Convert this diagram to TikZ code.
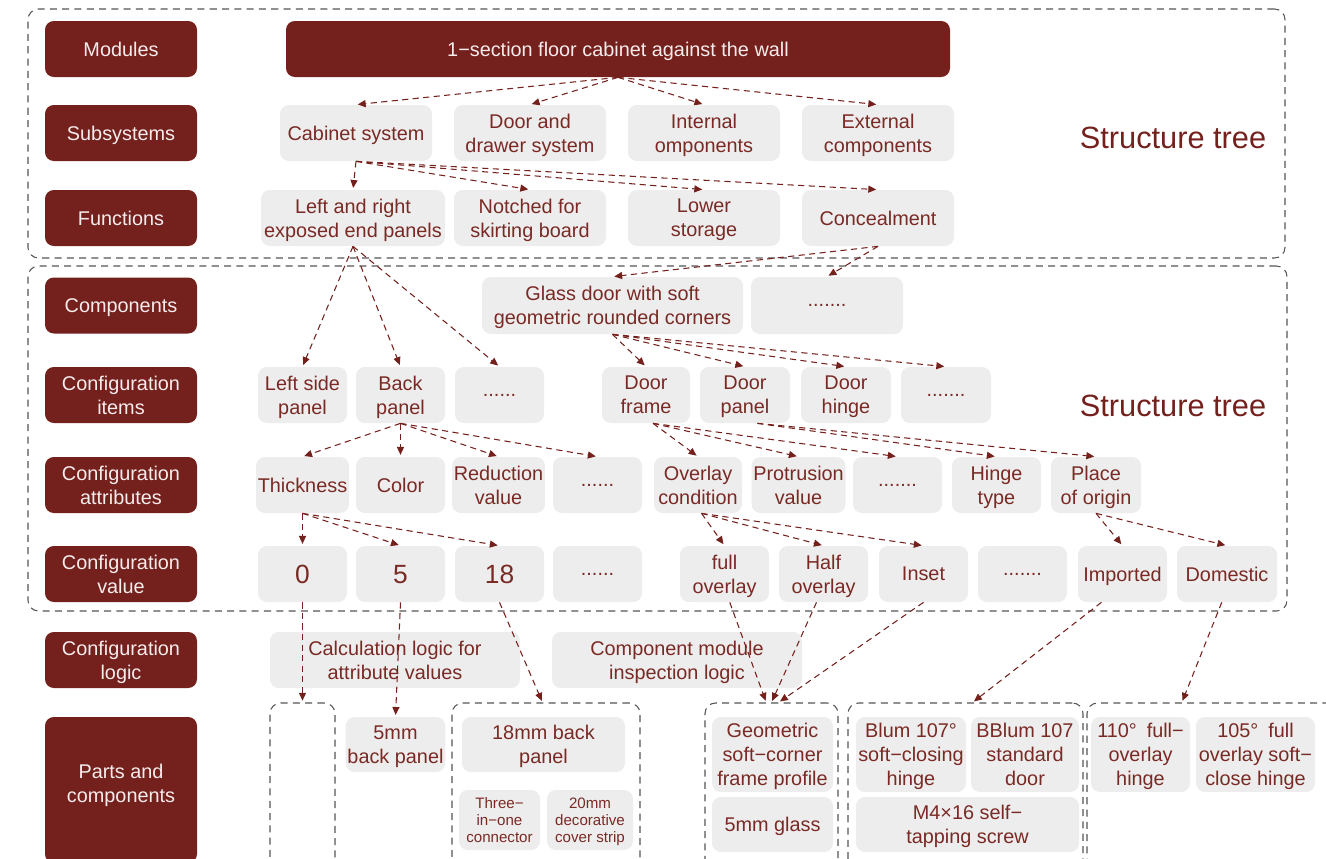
\documentclass[tikz,border=0pt]{standalone}
\usepackage{fontspec}
\setmainfont{Liberation Sans}
\usetikzlibrary{arrows.meta}
\definecolor{wine}{HTML}{74201D}
\definecolor{labtxt}{HTML}{F6ECEC}
\definecolor{itemgray}{HTML}{EDEDED}
\definecolor{itemtxt}{HTML}{7A2A25}
\definecolor{grpgray}{HTML}{555555}

\begin{document}
\begin{tikzpicture}[x=0.02cm, y=-0.02cm,
  font=\fontsize{11.3}{13.6}\selectfont,
  sz/.style 2 args={minimum width=#1*0.02cm, minimum height=#2*0.02cm},
  lab/.style={fill=wine, text=labtxt, rounded corners=5pt, align=center, inner sep=1pt, text depth=0pt, sz={152}{56}},
  item/.style={fill=itemgray, text=itemtxt, rounded corners=5pt, align=center, inner sep=1pt, text depth=0pt},
  grp/.style={draw=grpgray, dash pattern=on 4pt off 3pt, line width=0.6pt, rounded corners=6pt},
  arr/.style={draw=wine, line width=0.6pt, dash pattern=on 3.5pt off 2.5pt, -{Triangle[length=4.5pt,width=4pt]}, shorten >=1pt},
  small/.style={font=\fontsize{8.6}{9.8}\selectfont},
  title/.style={text=wine, font=\fontsize{17.5}{20}\selectfont},
]
\useasboundingbox (0,0) rectangle (1326,859);
\clip (0,0) rectangle (1326,859);

% dashed groups
\node[grp, sz={1257}{249}] (gtop) at (656.5,133.5) {};
\node[grp, sz={1259}{345}] (gmid) at (657.5,438.5) {};
\node[grp, sz={65}{172}] (gzero) at (302.5,789) {};
\node[grp, sz={188}{172}] (geight) at (546,789) {};
\node[grp, sz={133}{172}] (gglass) at (771.5,789) {};
\node[grp, sz={235}{172}] (gblum) at (965.5,789) {};
\node[grp, sz={253}{172}] (ghinge) at (1213.5,789) {};

% level labels
\node[lab] (lmod) at (121,49) {Modules};
\node[lab] (lsub) at (121,133) {Subsystems};
\node[lab] (lfun) at (121,218) {Functions};
\node[lab] (lcomp) at (121,305.5) {Components};
\node[lab] (litem) at (121,395) {Configuration\\items};
\node[lab] (lattr) at (121,485) {Configuration\\attributes};
\node[lab] (lval) at (121,574) {Configuration\\value};
\node[lab] (llogic) at (121,660) {Configuration\\logic};
\node[lab, sz={152}{146}, text depth=8pt] (lparts) at (121,790) {Parts and\\components};

\node[title] (st1) at (1173,138) {Structure tree};
\node[title] (st2) at (1173,406) {Structure tree};

% module
\node[lab, sz={664}{56}] (mod) at (618,49) {1−section floor cabinet against the wall};

% subsystems
\node[item, sz={152}{56}] (cab) at (356,133) {Cabinet system};
\node[item, sz={152}{56}] (door) at (530,133) {Door and\\drawer system};
\node[item, sz={152}{56}] (intern) at (704,133) {Internal\\omponents};
\node[item, sz={152}{56}] (extern) at (878,133) {External\\components};

% functions
\node[item, sz={184}{56}] (lr) at (353,218) {Left and right\\exposed end panels};
\node[item, sz={152}{56}] (notch) at (530,218) {Notched for\\skirting board};
\node[item, sz={152}{56}] (lower) at (704,218) {Lower\\storage};
\node[item, sz={152}{56}] (conceal) at (878,218) {Concealment};

% components
\node[item, sz={261}{57}] (glass) at (612.5,305.5) {Glass door with soft\\geometric rounded corners};
\node[item, sz={152}{57}] (cdots) at (827,305.5) {.......};

% configuration items
\node[item, sz={89}{56}] (lside) at (302.5,395) {Left side\\panel};
\node[item, sz={89}{56}] (back) at (400.5,395) {Back\\panel};
\node[item, sz={89}{56}] (idots) at (499.5,395) {......};
\node[item, sz={88}{56}] (dframe) at (646,395) {Door\\frame};
\node[item, sz={90}{56}] (dpanel) at (745,395) {Door\\panel};
\node[item, sz={90}{56}] (dhinge) at (846,395) {Door\\hinge};
\node[item, sz={90}{56}] (idotsb) at (946,395) {.......};

% configuration attributes
\node[item, sz={89}{56}] (thick) at (302.5,485) {Thickness};
\node[item, sz={89}{56}] (color) at (400.5,485) {Color};
\node[item, sz={89}{56}] (reduct) at (498.5,485) {Reduction\\value};
\node[item, sz={89}{56}] (adots) at (597.5,485) {......};
\node[item, sz={88}{56}] (overlay) at (698,485) {Overlay\\condition};
\node[item, sz={93}{56}] (protr) at (798.5,485) {Protrusion\\value};
\node[item, sz={89}{56}] (adotsb) at (897.5,485) {.......};
\node[item, sz={89}{56}] (htype) at (996.5,485) {Hinge\\type};
\node[item, sz={90}{56}] (origin) at (1096,485) {Place\\of origin};

% configuration values
\node[item, sz={89}{56}, font=\fontsize{15}{18}\selectfont] (vzero) at (302.5,574) {0};
\node[item, sz={89}{56}, font=\fontsize{15}{18}\selectfont] (vfive) at (400.5,574) {5};
\node[item, sz={89}{56}, font=\fontsize{15}{18}\selectfont] (veight) at (499.5,574) {18};
\node[item, sz={89}{56}] (vdots) at (597.5,574) {......};
\node[item, sz={89}{56}] (vfull) at (724.5,574) {full\\overlay};
\node[item, sz={89}{56}] (vhalf) at (823.5,574) {Half\\overlay};
\node[item, sz={89}{56}] (vinset) at (923.5,574) {Inset};
\node[item, sz={89}{56}] (vdotsb) at (1022.5,574) {.......};
\node[item, sz={89}{56}] (vimp) at (1122.5,574) {Imported};
\node[item, sz={100}{56}] (vdom) at (1227,574) {Domestic};

% configuration logic
\node[item, sz={250}{56}] (calc) at (395,660) {Calculation logic for\\attribute values};
\node[item, sz={250}{56}] (inspect) at (677,660) {Component module\\inspection logic};

% parts and components
\node[item, sz={99}{55}] (pfive) at (395.5,744.5) {5mm\\back panel};
\node[item, sz={163}{55}] (peight) at (543.5,744.5) {18mm back\\panel};
\node[item, small, sz={81}{60}] (pconn) at (499.5,820) {Three−\\in−one\\connector};
\node[item, small, sz={86}{60}] (pstrip) at (590,820) {20mm\\decorative\\cover strip};
\node[item, sz={121}{75}] (pgeo) at (772.5,754.5) {Geometric\\soft−corner\\frame profile};
\node[item, sz={121}{55}] (pglass) at (772.5,824.5) {5mm glass};
\node[item, sz={110}{75}] (pblum) at (911,754.5) {Blum 107°\\soft−closing\\hinge};
\node[item, sz={108}{75}] (pdoor) at (1025,754.5) {BBlum 107\\standard\\door};
\node[item, sz={223}{55}] (pscrew) at (967.5,824.5) {M4×16 self−\\tapping screw};
\node[item, sz={99}{75}] (pfull) at (1140.5,754.5) {110°\enspace full−\\overlay\\hinge};
\node[item, sz={119}{75}] (psoft) at (1255.5,754.5) {105°\enspace full\\overlay soft−\\close hinge};

% connectors
\draw[arr] (mod.south) -- (cab.north);
\draw[arr] (mod.south) -- (door.north);
\draw[arr] (mod.south) -- (intern.north);
\draw[arr] (mod.south) -- (extern.north);
\draw[arr] (cab.south) -- (lr.north);
\draw[arr] (cab.south) -- (notch.north);
\draw[arr] (cab.south) -- (lower.north);
\draw[arr] (cab.south) -- (conceal.north);
\draw[arr] (lr.south) -- (lside.north);
\draw[arr] (lr.south) -- (back.north);
\draw[arr] (lr.south) -- (idots.north);
\draw[arr] (conceal.south) -- (glass.north);
\draw[arr] (conceal.south) -- (cdots.north);
\draw[arr] (glass.south) -- (dframe.north);
\draw[arr] (glass.south) -- (dpanel.north);
\draw[arr] (glass.south) -- (dhinge.north);
\draw[arr] (glass.south) -- (idotsb.north);
\draw[arr] (back.south) -- (thick.north);
\draw[arr] (back.south) -- (color.north);
\draw[arr] (back.south) -- (reduct.north);
\draw[arr] (back.south) -- (adots.north);
\draw[arr] ([xshift=4pt]dframe.south) -- (overlay.north);
\draw[arr] ([xshift=4pt]dframe.south) -- (protr.north);
\draw[arr] ([xshift=4pt]dframe.south) -- (adotsb.north);
\draw[arr] ([xshift=7pt]dpanel.south) -- (htype.north);
\draw[arr] ([xshift=7pt]dpanel.south) -- (origin.north);
\draw[arr] (thick.south) -- (vzero.north);
\draw[arr] (thick.south) -- (vfive.north);
\draw[arr] (thick.south) -- (veight.north);
\draw[arr] ([xshift=2pt]overlay.south) -- (vfull.north);
\draw[arr] ([xshift=2pt]overlay.south) -- (vhalf.north);
\draw[arr] ([xshift=2pt]overlay.south) -- (vinset.north);
\draw[arr] (origin.south) -- (vimp.north);
\draw[arr] (origin.south) -- (vdom.north);
\draw[arr] (vzero.south) -- (gzero.north);
\draw[arr] (vfive.south) -- (pfive.north);
\draw[arr] (veight.south) -- ([xshift=-2pt]geight.north);
\draw[arr] ([xshift=3pt]vfull.south) -- ([xshift=-3pt]gglass.north);
\draw[arr] ([xshift=-4pt]vhalf.south) -- (gglass.north);
\draw[arr] (vinset.south) -- ([xshift=4pt]gglass.north);
\draw[arr] ([xshift=-12pt]vimp.south) -- ([xshift=4pt]gblum.north);
\draw[arr] ([xshift=-3pt]vdom.south) -- ([xshift=-18pt]ghinge.north);
\end{tikzpicture}
\end{document}
